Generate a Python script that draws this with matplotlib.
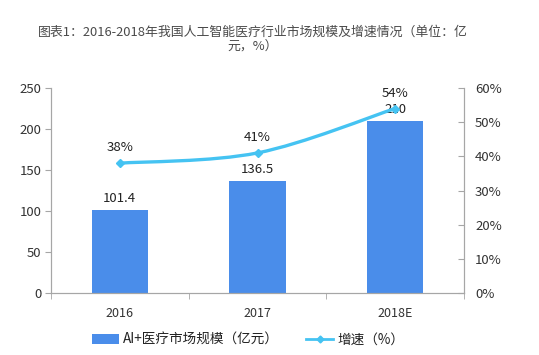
import matplotlib
matplotlib.use("Agg")
import matplotlib.pyplot as plt
from matplotlib.path import Path
from matplotlib.patches import PathPatch
from matplotlib.lines import Line2D
from matplotlib.patches import Patch

plt.rcParams['font.family'] = ['Noto Sans CJK SC', 'DejaVu Sans']

categories = ["2016", "2017", "2018E"]
market_size = [101.4, 136.5, 210]
growth = [38, 41, 54]
size_labels = ["101.4", "136.5", "210"]
growth_labels = ["38%", "41%", "54%"]

bar_color = "#4A8DEA"
line_color = "#45C3F2"
text_color = "#333333"
axis_color = "#A6A6A6"

fig = plt.figure(figsize=(5.39, 3.55), dpi=100)
ax = fig.add_axes([51/539, 1-293/355, (464-51)/539, (293-88)/355])
ax2 = ax.twinx()

x = list(range(len(categories)))
ax.bar(x, market_size, width=0.41, color=bar_color, zorder=2)
ax.set_xlim(-0.5, 2.5)
ax.set_ylim(0, 250)
ax.set_yticks([0, 50, 100, 150, 200, 250])
ax.set_xticks(x)
ax.set_xticklabels(categories)
ax.set_xticks([-0.5, 0.5, 1.5, 2.5], minor=True)
ax.tick_params(axis='x', which='major', length=0, pad=10, labelsize=9, colors=text_color)
ax.tick_params(axis='x', which='minor', length=4, color=axis_color)
ax.tick_params(axis='y', length=4, color=axis_color, labelsize=9.5, labelcolor=text_color, pad=3)

ax2.set_ylim(0, 60)
ax2.set_yticks([0, 10, 20, 30, 40, 50, 60])
ax2.set_yticklabels([f"{v}%" for v in [0, 10, 20, 30, 40, 50, 60]])
ax2.tick_params(axis='y', direction='in', length=4, color=axis_color, labelsize=9.5, labelcolor=text_color, pad=8)

for a in (ax, ax2):
    a.spines['top'].set_visible(False)
    for s in ('left', 'right', 'bottom'):
        a.spines[s].set_color(axis_color)
        a.spines[s].set_linewidth(0.8)

# smoothed line via Bezier path (Catmull-Rom style control points)
pts = list(zip(x, growth))
verts = [pts[0]]
codes = [Path.MOVETO]
n = len(pts)
for i in range(n - 1):
    p0 = pts[i - 1] if i > 0 else pts[i]
    p1 = pts[i]
    p2 = pts[i + 1]
    p3 = pts[i + 2] if i + 2 < n else pts[i + 1]
    t = 1/6
    c1 = (p1[0] + (p2[0] - p0[0]) * t, p1[1] + (p2[1] - p0[1]) * t)
    c2 = (p2[0] - (p3[0] - p1[0]) * t, p2[1] - (p3[1] - p1[1]) * t)
    verts += [c1, c2, p2]
    codes += [Path.CURVE4] * 3
ax2.add_patch(PathPatch(Path(verts, codes), facecolor='none', edgecolor=line_color, lw=2.4, zorder=3))
ax2.plot(x, growth, linestyle='none', marker='D', markersize=4, color=line_color, zorder=4)

for xi, v, lab in zip(x, market_size, size_labels):
    ax.text(xi, v + 6, lab, ha='center', va='bottom', fontsize=9.5, color='#222222')
for xi, v, lab in zip(x, growth, growth_labels):
    ax2.text(xi, v + 2.6, lab, ha='center', va='bottom', fontsize=9.5, color='#222222')

fig.text(253/539, 1-32/355, "图表1：2016-2018年我国人工智能医疗行业市场规模及增速情况（单位：亿",
         ha='center', va='center', fontsize=9.3, color='#4a4a4a')
fig.text(253/539, 1-46/355, "元，%）", ha='center', va='center', fontsize=9.3, color='#4a4a4a')

handles = [Patch(facecolor=bar_color, edgecolor='none'),
           Line2D([0], [0], color=line_color, lw=2, marker='D', markersize=3.5)]
fig.legend(handles, ["AI+医疗市场规模（亿元）", "增速（%）"], loc='center',
           bbox_to_anchor=(248/539, 1-340/355), ncol=2, frameon=False, fontsize=9.8,
           handlelength=2.0, handleheight=0.7, columnspacing=2.0, handletextpad=0.3,
           labelcolor='#222222')

fig.savefig("out.png", dpi=100)
